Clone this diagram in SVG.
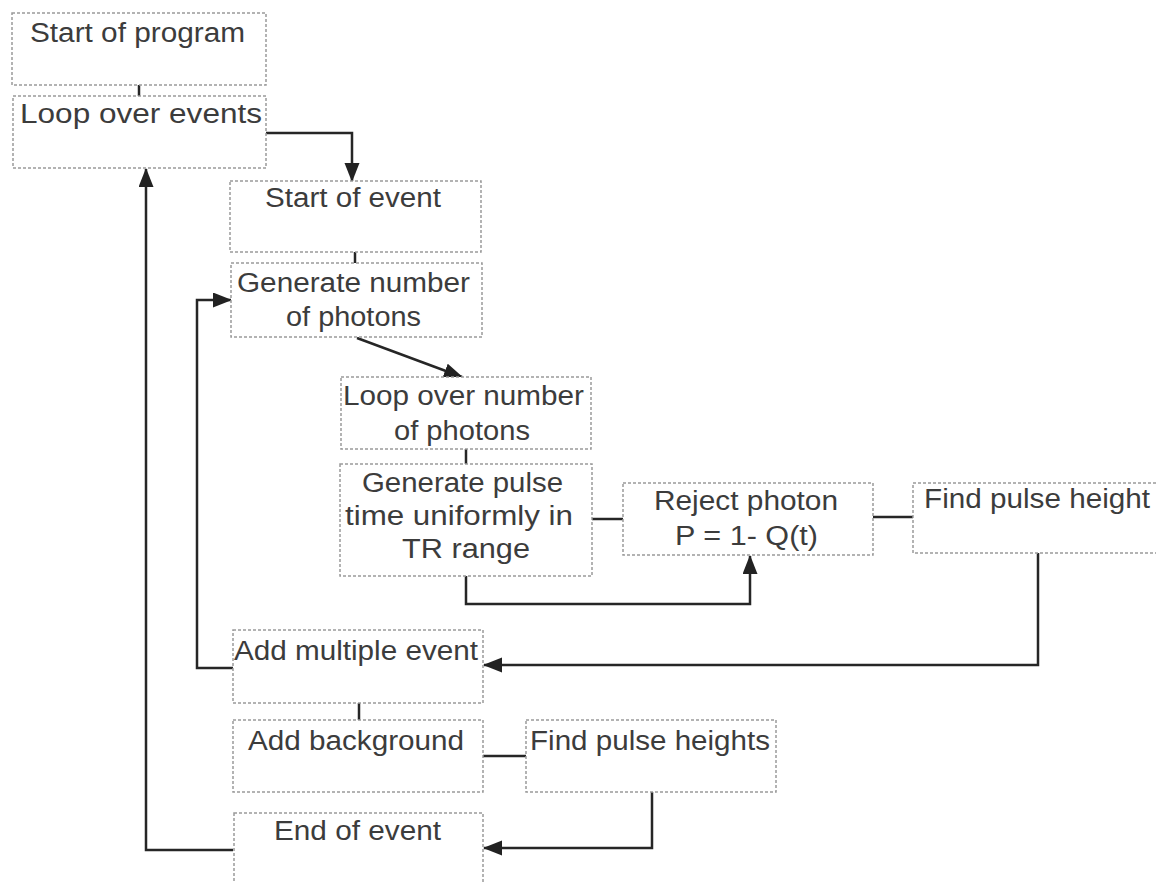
<svg xmlns="http://www.w3.org/2000/svg" width="1156" height="883" viewBox="0 0 1156 883">
<defs>
<marker id="ah" markerUnits="userSpaceOnUse" markerWidth="20" markerHeight="16" refX="18" refY="7.5" orient="auto">
<path d="M0,0 L19,7.5 L0,15 z" fill="#222"/>
</marker>
<style>
.box{fill:#fff;stroke:#9a9a9a;stroke-width:1.5;stroke-dasharray:3 2}
.t{font-family:"Liberation Sans",Arial,sans-serif;font-size:27px;fill:#3c3c3c}
.ln{fill:none;stroke:#262626;stroke-width:2.5}
.ar{fill:none;stroke:#262626;stroke-width:2.5;marker-end:url(#ah)}
</style>
</defs>
<rect width="1156" height="883" fill="#fff"/>
<g id="connectors">
<path class="ln" d="M139,85 V96"/>
<path class="ln" d="M355,252 V263"/>
<path class="ln" d="M466,449 V464"/>
<path class="ln" d="M592,519 H623"/>
<path class="ln" d="M873,517 H913"/>
<path class="ln" d="M359,703 V720"/>
<path class="ln" d="M483,756 H526"/>
<path class="ar" d="M266,133 H352 V181"/>
<path class="ar" d="M357,338 L462,377"/>
<path class="ar" d="M466,576 V604 H750 V556"/>
<path class="ar" d="M1038,553 V665 H484"/>
<path class="ar" d="M233,668 H197 V300 H231"/>
<path class="ar" d="M652,792 V848 H484"/>
<path class="ar" d="M233,850 H146 V169"/>
</g>
<g id="n1"><rect class="box" x="12" y="13" width="254" height="72"/><text class="t" x="30" y="42" textLength="215" lengthAdjust="spacingAndGlyphs">Start of program</text></g>
<g id="n2"><rect class="box" x="13" y="96" width="253" height="72"/><text class="t" x="20" y="123" textLength="242" lengthAdjust="spacingAndGlyphs">Loop over events</text></g>
<g id="n3"><rect class="box" x="230" y="181" width="251" height="71"/><text class="t" x="265" y="207" textLength="176" lengthAdjust="spacingAndGlyphs">Start of event</text></g>
<g id="n4"><rect class="box" x="231" y="263" width="251" height="74"/><text class="t" x="237" y="292" textLength="233" lengthAdjust="spacingAndGlyphs">Generate number</text><text class="t" x="286" y="326" textLength="135" lengthAdjust="spacingAndGlyphs">of photons</text></g>
<g id="n5"><rect class="box" x="341" y="377" width="250" height="72"/><text class="t" x="343" y="405" textLength="241" lengthAdjust="spacingAndGlyphs">Loop over number</text><text class="t" x="394" y="440" textLength="136" lengthAdjust="spacingAndGlyphs">of photons</text></g>
<g id="n6"><rect class="box" x="340" y="464" width="252" height="112"/><text class="t" x="362" y="492" textLength="201" lengthAdjust="spacingAndGlyphs">Generate pulse</text><text class="t" x="345" y="525" textLength="228" lengthAdjust="spacingAndGlyphs">time uniformly in</text><text class="t" x="402" y="558" textLength="128" lengthAdjust="spacingAndGlyphs">TR range</text></g>
<g id="n7"><rect class="box" x="623" y="483" width="250" height="72"/><text class="t" x="654" y="510" textLength="184" lengthAdjust="spacingAndGlyphs">Reject photon</text><text class="t" x="675" y="545" textLength="143" lengthAdjust="spacingAndGlyphs">P = 1- Q(t)</text></g>
<g id="n8"><rect class="box" x="913" y="483" width="260" height="70"/><text class="t" x="924" y="508" textLength="226" lengthAdjust="spacingAndGlyphs">Find pulse height</text></g>
<g id="n9"><rect class="box" x="233" y="630" width="250" height="73"/><text class="t" x="234" y="660" textLength="244" lengthAdjust="spacingAndGlyphs">Add multiple event</text></g>
<g id="n10"><rect class="box" x="233" y="720" width="250" height="72"/><text class="t" x="248" y="750" textLength="216" lengthAdjust="spacingAndGlyphs">Add background</text></g>
<g id="n11"><rect class="box" x="526" y="720" width="250" height="72"/><text class="t" x="530" y="750" textLength="240" lengthAdjust="spacingAndGlyphs">Find pulse heights</text></g>
<g id="n12"><rect class="box" x="234" y="813" width="249" height="80"/><text class="t" x="274" y="840" textLength="167" lengthAdjust="spacingAndGlyphs">End of event</text></g>
</svg>
